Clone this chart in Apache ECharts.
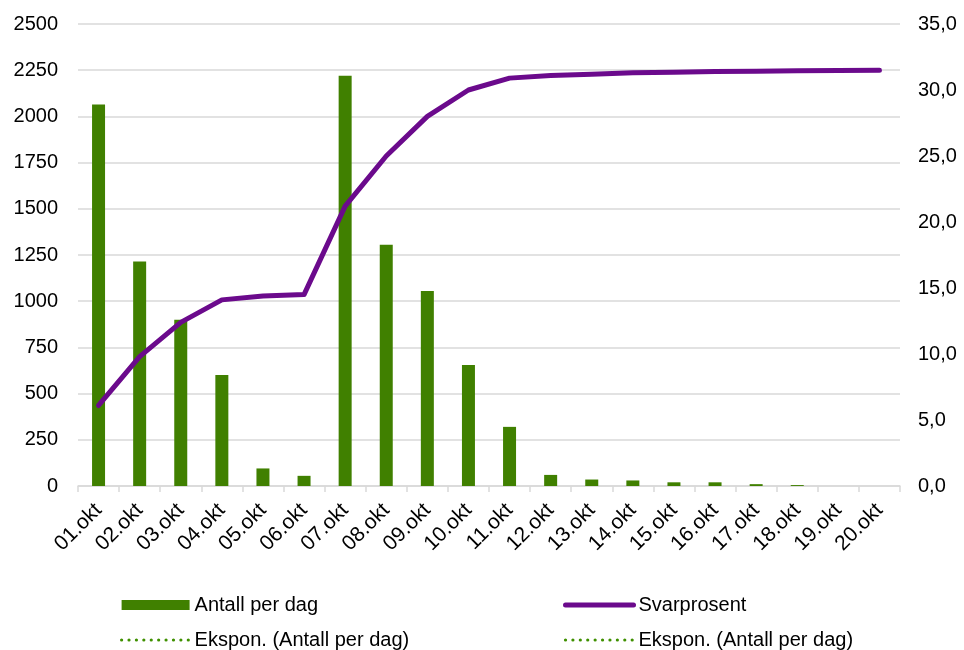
<!DOCTYPE html>
<html>
<head>
<meta charset="utf-8">
<script src="https://cdn.jsdelivr.net/npm/echarts@6/dist/echarts.min.js"></script>
<style>html,body{margin:0;padding:0;background:#fff}#c{width:964px;height:650px}</style>
</head>
<body>
<div id="c"></div>
<script>
const categories = ['01.okt','02.okt','03.okt','04.okt','05.okt','06.okt','07.okt','08.okt','09.okt','10.okt','11.okt','12.okt','13.okt','14.okt','15.okt','16.okt','17.okt','18.okt','19.okt','20.okt'];
const antallPerDag = [2065, 1215, 900, 600, 95, 55, 2220, 1305, 1055, 655, 320, 60, 35, 30, 20, 20, 10, 5, 0, 0];
const svarprosent = [6.1, 9.8, 12.4, 14.1, 14.4, 14.5, 21.2, 25.0, 28.0, 30.0, 30.9, 31.1, 31.2, 31.3, 31.35, 31.4, 31.42, 31.45, 31.47, 31.5];
const leftTicks = {min: 0, max: 2500, interval: 250};
const rightTicks = {min: 0, max: 35, interval: 5};
const trendName1 = 'Ekspon. (Antall per dag)';
const trendName2 = 'Ekspon. (Antall per dag) ';

const font = 'Liberation Sans, Arial, sans-serif';
const chart = echarts.init(document.getElementById('c'), null, {renderer: 'canvas'});
const legendText = {fontSize: 20, fontFamily: font, color: '#000', lineHeight: 20};
const dotted = {color: '#3f9000', width: 3.2, type: [0.01, 7.4], cap: 'round'};
chart.setOption({
  animation: false,
  backgroundColor: '#fff',
  grid: {left: 78, right: 64, top: 24, bottom: 164, containLabel: false, outerBoundsMode: 'none'},
  legend: [
    {orient: 'vertical', left: 120, top: 595, padding: 0, itemGap: 15, itemWidth: 68, itemHeight: 10,
     textStyle: legendText,
     data: [{name: 'Antall per dag', icon: 'rect', itemStyle: {borderWidth: 0, color: '#408000'}},
            {name: trendName1, itemStyle: {opacity: 0}, lineStyle: dotted}]},
    {orient: 'vertical', left: 563, top: 595, padding: 0, itemGap: 15, itemWidth: 68, itemHeight: 10,
     textStyle: legendText,
     formatter: n => n.trim(),
     data: [{name: 'Svarprosent', itemStyle: {opacity: 0}, lineStyle: {color: '#6b0a8c', width: 5, cap: 'round'}},
            {name: trendName2, itemStyle: {opacity: 0}, lineStyle: dotted}]}
  ],
  xAxis: {
    type: 'category', data: categories, boundaryGap: true,
    axisLine: {show: true, lineStyle: {color: '#d9d9d9', width: 1.5}},
    axisTick: {show: true, alignWithLabel: false, length: 6, lineStyle: {color: '#d9d9d9', width: 1.5}},
    axisLabel: {rotate: 45, fontSize: 21, fontFamily: font, color: '#000', margin: 21, interval: 0}
  },
  yAxis: [
    {type: 'value', min: leftTicks.min, max: leftTicks.max, interval: leftTicks.interval,
     axisLine: {show: false}, axisTick: {show: false},
     splitLine: {show: true, lineStyle: {color: '#d9d9d9', width: 1.5}},
     axisLabel: {fontSize: 20, fontFamily: font, color: '#000', margin: 20, formatter: v => String(v)}},
    {type: 'value', position: 'right', min: rightTicks.min, max: rightTicks.max, interval: rightTicks.interval,
     axisLine: {show: false}, axisTick: {show: false}, splitLine: {show: false},
     axisLabel: {fontSize: 20, fontFamily: font, color: '#000', margin: 18,
       formatter: v => v.toFixed(1).replace('.', ',')}}
  ],
  series: [
    {name: 'Antall per dag', type: 'bar', yAxisIndex: 0, data: antallPerDag, barWidth: 13,
     itemStyle: {color: '#408000'}},
    {name: 'Svarprosent', type: 'line', yAxisIndex: 1, data: svarprosent, symbol: 'none',
     lineStyle: {color: '#6b0a8c', width: 5, cap: 'round', join: 'round'}, itemStyle: {color: '#6b0a8c'}, z: 5},
    {name: trendName1, type: 'line', yAxisIndex: 0, data: [], symbol: 'none',
     lineStyle: dotted, itemStyle: {color: '#3f9000'}},
    {name: trendName2, type: 'line', yAxisIndex: 0, data: [], symbol: 'none',
     lineStyle: dotted, itemStyle: {color: '#3f9000'}}
  ]
});
</script>
</body>
</html>
